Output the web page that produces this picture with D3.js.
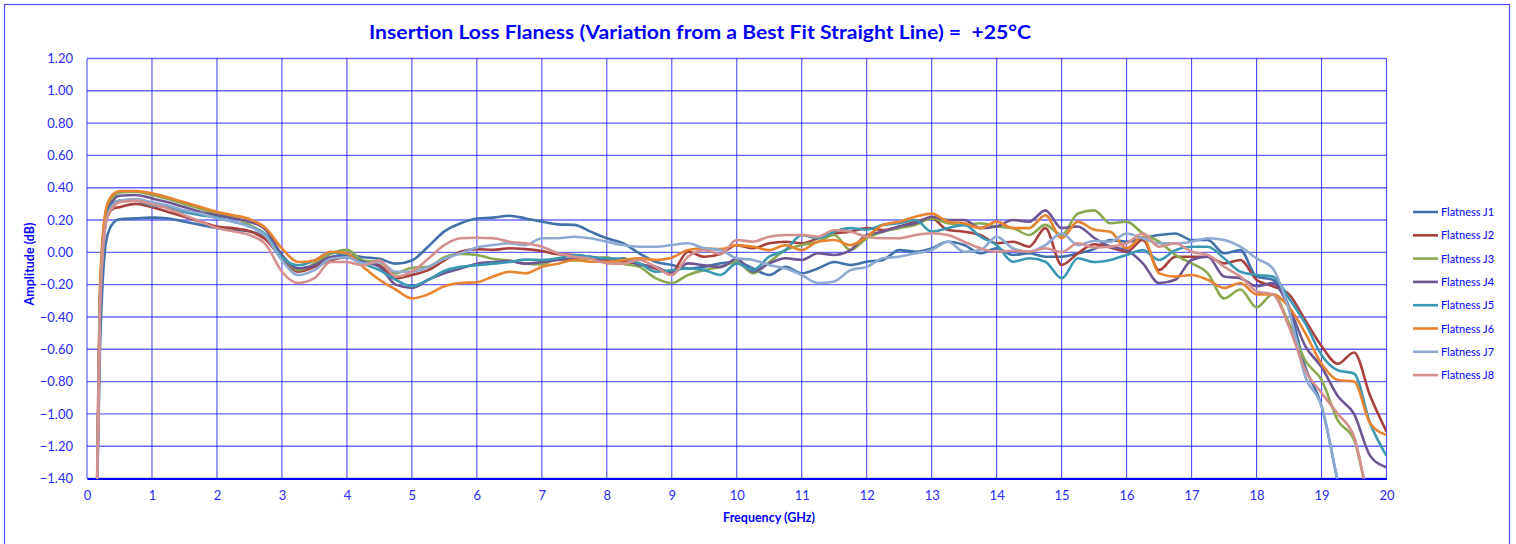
<!DOCTYPE html>
<html>
<head>
<meta charset="utf-8">
<script src="https://cdn.jsdelivr.net/npm/d3@7"></script>
<style>
  body { margin: 0; background: #fff; }
  svg { display: block; font-family: Lato, "Open Sans", sans-serif; }
</style>
</head>
<body>
<div id="chart"></div>
<script>
// frequencies (GHz) shared by all traces
var freqs = [0.15, 0.2, 0.3, 0.4, 0.5, 0.75,
  1, 1.25, 1.5, 1.75, 2, 2.25, 2.5, 2.75, 3, 3.25, 3.5, 3.75,
  4, 4.25, 4.5, 4.75, 5, 5.25, 5.5, 5.75, 6, 6.25, 6.5, 6.75,
  7, 7.25, 7.5, 7.75, 8, 8.25, 8.5, 8.75, 9, 9.25, 9.5, 9.75,
  10, 10.25, 10.5, 10.75, 11, 11.25, 11.5, 11.75, 12, 12.25, 12.5, 12.75,
  13, 13.25, 13.5, 13.75, 14, 14.25, 14.5, 14.75, 15, 15.25, 15.5, 15.75,
  16, 16.25, 16.5, 16.75, 17, 17.25, 17.5, 17.75, 18, 18.25, 18.5, 18.75,
  19, 19.25, 19.5, 19.75, 20];

var j1 = [-1.6, -0.6, 0.08, 0.18, 0.205, 0.21,
  0.215, 0.21, 0.19, 0.17, 0.15, 0.14, 0.13, 0.09, -0.03, -0.10, -0.08, -0.03,
  -0.015, -0.03, -0.04, -0.07, -0.05, 0.035, 0.13, 0.18, 0.21, 0.215, 0.227, 0.21,
  0.19, 0.173, 0.17, 0.128, 0.087, 0.056, -0.006, -0.058, -0.078, -0.10, -0.09, -0.068,
  -0.058, -0.10, -0.14, -0.09, -0.13, -0.10, -0.06, -0.078, -0.058, -0.047, 0.014, 0.004,
  0.025, 0.066, 0.045, -0.006, 0.025, -0.016, -0.006, -0.027, -0.027, -0.006, 0.02, 0.076,
  0.066, 0.087, 0.107, 0.117, 0.076, 0.076, -0.006, 0.014, -0.15, -0.17, -0.34, -0.71,
  -0.95, -1.42, -1.9, -2.2, -2.5];

var j2 = [-1.6, -0.3, 0.2, 0.27, 0.28, 0.30,
  0.28, 0.25, 0.22, 0.19, 0.16, 0.15, 0.13, 0.08, -0.04, -0.12, -0.09, -0.05,
  -0.03, -0.06, -0.08, -0.16, -0.14, -0.11, -0.05, 0.004, 0.02, 0.015, 0.025, 0.02,
  0.008, -0.012, -0.016, -0.03, -0.047, -0.06, -0.07, -0.10, -0.12, 0.004, -0.027, -0.01,
  0.045, 0.025, 0.056, 0.066, 0.056, 0.087, 0.117, 0.128, 0.15, 0.138, 0.16, 0.19,
  0.21, 0.138, 0.128, 0.107, 0.056, 0.066, 0.035, 0.15, -0.078, -0.006, 0.05, 0.03,
  0.004, 0.076, -0.11, -0.027, -0.027, -0.027, -0.068, -0.047, -0.17, -0.21, -0.26, -0.42,
  -0.58, -0.69, -0.62, -0.89, -1.11];

var j3 = [-1.6, -0.25, 0.27, 0.34, 0.37, 0.375,
  0.355, 0.33, 0.30, 0.27, 0.24, 0.22, 0.17, 0.11, -0.02, -0.11, -0.07, -0.01,
  0.015, -0.05, -0.06, -0.13, -0.095, -0.09, -0.03, -0.01, -0.016, -0.04, -0.05, -0.07,
  -0.075, -0.04, -0.05, -0.04, -0.03, -0.07, -0.09, -0.16, -0.19, -0.14, -0.11, -0.09,
  -0.06, -0.13, -0.06, 0.014, 0.045, 0.066, 0.107, 0.014, 0.087, 0.128, 0.15, 0.17,
  0.21, 0.18, 0.17, 0.18, 0.16, 0.15, 0.107, 0.17, 0.107, 0.24, 0.26, 0.18,
  0.19, 0.117, 0.066, -0.016, -0.068, -0.13, -0.285, -0.23, -0.34, -0.26, -0.44, -0.67,
  -0.79, -1.04, -1.16, -1.6, -2.0];

var j4 = [-1.6, -0.28, 0.24, 0.32, 0.35, 0.355,
  0.334, 0.31, 0.28, 0.25, 0.23, 0.21, 0.19, 0.14, -0.016, -0.10, -0.08, -0.03,
  -0.03, -0.06, -0.09, -0.20, -0.22, -0.17, -0.13, -0.10, -0.07, -0.06, -0.054, -0.07,
  -0.06, -0.047, -0.037, -0.027, -0.058, -0.037, -0.078, -0.09, -0.13, -0.068, -0.08, -0.09,
  -0.04, -0.12, -0.068, -0.037, -0.047, -0.006, -0.016, 0.014, 0.107, 0.128, 0.16, 0.18,
  0.22, 0.2, 0.2, 0.15, 0.16, 0.2, 0.19, 0.26, 0.15, 0.16, 0.09, 0.035,
  0.014, -0.068, -0.19, -0.17, -0.047, -0.027, -0.15, -0.16, -0.21, -0.19, -0.34, -0.58,
  -0.71, -0.89, -1.0, -1.26, -1.33];

var j5 = [-1.6, -0.3, 0.22, 0.30, 0.32, 0.32,
  0.29, 0.28, 0.25, 0.23, 0.215, 0.19, 0.16, 0.11, -0.03, -0.08, -0.05, 0.0,
  -0.01, -0.07, -0.11, -0.17, -0.21, -0.17, -0.115, -0.09, -0.08, -0.07, -0.06, -0.045,
  -0.047, -0.037, -0.016, -0.027, -0.037, -0.04, -0.068, -0.12, -0.11, -0.10, -0.11, -0.14,
  -0.068, -0.11, -0.027, 0.014, 0.107, 0.087, 0.128, 0.15, 0.14, 0.17, 0.18, 0.2,
  0.128, 0.15, 0.17, 0.097, 0.045, -0.058, -0.037, -0.058, -0.16, -0.037, -0.06, -0.047,
  -0.016, 0.014, -0.047, 0.014, 0.035, 0.035, -0.037, -0.12, -0.14, -0.15, -0.285, -0.44,
  -0.635, -0.73, -0.75, -1.06, -1.26];

var j6 = [-1.6, -0.2, 0.28, 0.36, 0.38, 0.38,
  0.365, 0.34, 0.31, 0.28, 0.25, 0.23, 0.206, 0.15, 0.025, -0.06, -0.05, 0.004,
  -0.006, -0.09, -0.17, -0.23, -0.285, -0.26, -0.21, -0.19, -0.185, -0.15, -0.12, -0.13,
  -0.09, -0.07, -0.047, -0.058, -0.058, -0.047, -0.037, -0.047, -0.033, 0.014, 0.025, 0.02,
  0.045, 0.035, 0.014, 0.045, 0.014, 0.066, 0.076, 0.045, 0.097, 0.17, 0.19, 0.22,
  0.24, 0.19, 0.18, 0.15, 0.19, 0.15, 0.15, 0.23, 0.087, 0.19, 0.14, 0.128,
  0.025, 0.097, -0.13, -0.15, -0.14, -0.17, -0.22, -0.19, -0.26, -0.26, -0.34, -0.5,
  -0.69, -0.79, -0.80, -1.06, -1.13];

var j7 = [-1.6, -0.32, 0.2, 0.29, 0.32, 0.33,
  0.31, 0.29, 0.26, 0.24, 0.21, 0.19, 0.16, 0.10, -0.05, -0.14, -0.11, -0.04,
  -0.03, -0.07, -0.06, -0.12, -0.12, -0.09, -0.04, -0.006, 0.03, 0.045, 0.056, 0.045,
  0.087, 0.087, 0.097, 0.087, 0.066, 0.045, 0.035, 0.035, 0.045, 0.056, 0.025, 0.014,
  -0.037, -0.047, -0.078, -0.1, -0.14, -0.19, -0.18, -0.11, -0.09, -0.037, -0.027, -0.006,
  0.014, 0.066, 0.004, 0.014, 0.097, 0.025, 0.004, 0.045, 0.118, 0.045, 0.07, 0.066,
  0.117, 0.087, 0.056, 0.056, 0.066, 0.087, 0.076, 0.035, -0.037, -0.1, -0.36, -0.77,
  -0.95, -1.42, -1.9, -2.2, -2.5];

var j8 = [-1.6, -0.35, 0.2, 0.28, 0.31, 0.32,
  0.297, 0.27, 0.23, 0.19, 0.15, 0.13, 0.107, 0.05, -0.12, -0.19, -0.16, -0.06,
  -0.06, -0.08, -0.05, -0.15, -0.12, -0.04, 0.045, 0.087, 0.09, 0.087, 0.066, 0.056,
  0.035, -0.006, -0.027, -0.04, -0.068, -0.07, -0.047, -0.09, -0.14, -0.027, 0.014, -0.01,
  0.076, 0.066, 0.097, 0.107, 0.107, 0.097, 0.138, 0.128, 0.097, 0.087, 0.087, 0.107,
  0.118, 0.107, 0.066, 0.025, 0.004, 0.01, 0.004, 0.025, 0.0, 0.056, 0.03, 0.035,
  0.056, 0.117, 0.035, 0.056, 0.004, -0.016, -0.089, -0.15, -0.24, -0.26, -0.46, -0.73,
  -0.87, -1.0, -1.14, -1.6, -2.0];

var seriesNames = ["Flatness J1", "Flatness J2", "Flatness J3", "Flatness J4",
  "Flatness J5", "Flatness J6", "Flatness J7", "Flatness J8"];
var seriesValues = [j1, j2, j3, j4, j5, j6, j7, j8];
var seriesColors = ["#4271a9", "#a8403d", "#89a84f", "#6f5693", "#3c98b2", "#e8832f", "#8eaad2", "#d4908e"];

var yTicks = [1.2, 1.0, 0.8, 0.6, 0.4, 0.2, 0.0, -0.2, -0.4, -0.6, -0.8, -1.0, -1.2, -1.4];
var xTicks = d3.range(0, 21, 1);

var titleText = "Insertion Loss Flaness (Variation from a Best Fit Straight Line) =  +25\u00B0C";

var width = 1516, height = 544;
var blue = "#0000ff";

var svg = d3.select("#chart").append("svg")
  .attr("width", width)
  .attr("height", height);

// outer chart frame
svg.append("rect")
  .attr("x", 4.5).attr("y", 4.5)
  .attr("width", 1505).attr("height", 560)
  .attr("fill", "none")
  .attr("stroke", "#4d4dff")
  .attr("stroke-width", 1.2);

var x = d3.scaleLinear().domain([0, 20]).range([87, 1386.5]);
var y = d3.scaleLinear().domain([-1.4, 1.2]).range([478.5, 58.5]);

// grid
var grid = svg.append("g");
grid.selectAll("line.h").data(yTicks).enter().append("line")
  .attr("class", "h")
  .attr("x1", x(0)).attr("x2", x(20))
  .attr("y1", function(d) { return y(d); })
  .attr("y2", function(d) { return y(d); })
  .attr("stroke", blue)
  .attr("stroke-opacity", 0.6)
  .attr("stroke-width", 1.4);
grid.selectAll("line.v").data(xTicks).enter().append("line")
  .attr("class", "v")
  .attr("x1", function(d) { return x(d); })
  .attr("x2", function(d) { return x(d); })
  .attr("y1", y(1.2)).attr("y2", y(-1.4))
  .attr("stroke", blue)
  .attr("stroke-opacity", 0.7)
  .attr("stroke-width", 1.1);

// y axis labels
var yAxis = d3.axisLeft(y).tickValues(yTicks).tickSize(0).tickPadding(14)
  .tickFormat(d3.format(".2f"));
var gy = svg.append("g").attr("transform", "translate(" + x(0) + ",0)").call(yAxis);
gy.select(".domain").remove();
gy.selectAll("text").attr("fill", "#2a2aff").style("font-size", "13px").style("font-family", "Lato, sans-serif");

// x axis labels
var xAxis = d3.axisBottom(x).tickValues(xTicks).tickSize(0).tickPadding(12)
  .tickFormat(d3.format("d"));
var gx = svg.append("g").attr("transform", "translate(0," + y(-1.4) + ")").call(xAxis);
gx.select(".domain").attr("stroke", blue).attr("stroke-width", 2);
gx.selectAll("text").attr("fill", "#2a2aff").style("font-size", "13px").style("font-family", "Lato, sans-serif");

// traces
svg.append("clipPath").attr("id", "plotClip")
  .append("rect")
  .attr("x", x(0)).attr("y", y(1.2))
  .attr("width", x(20) - x(0)).attr("height", y(-1.4) - y(1.2));

var line = d3.line()
  .x(function(d) { return x(d[0]); })
  .y(function(d) { return y(d[1]); })
  .curve(d3.curveMonotoneX);

var traces = svg.append("g").attr("clip-path", "url(#plotClip)");
seriesValues.forEach(function(vals, i) {
  var pts = freqs.map(function(f, k) { return [f, vals[k]]; });
  traces.append("path")
    .datum(pts)
    .attr("d", line)
    .attr("fill", "none")
    .attr("stroke", seriesColors[i])
    .attr("stroke-width", 2.6)
    .attr("stroke-linejoin", "round");
});

// title
svg.append("text")
  .attr("x", 700).attr("y", 39)
  .attr("text-anchor", "middle")
  .attr("textLength", 662)
  .attr("lengthAdjust", "spacingAndGlyphs")
  .style("white-space", "pre")
  .style("font-size", "19px")
  .style("font-weight", "bold")
  .attr("fill", blue)
  .text(titleText);

// axis titles
svg.append("text")
  .attr("x", 769).attr("y", 522)
  .attr("text-anchor", "middle")
  .style("font-size", "12.5px")
  .style("font-weight", "bold")
  .attr("fill", blue)
  .text("Frequency (GHz)");

svg.append("text")
  .attr("transform", "translate(34,264) rotate(-90)")
  .attr("text-anchor", "middle")
  .style("font-size", "12.5px")
  .style("font-weight", "bold")
  .attr("fill", blue)
  .text("Amplitude (dB)");

// legend
var legend = svg.append("g").attr("transform", "translate(1413,212)");
seriesNames.forEach(function(name, i) {
  var ly = i * 23.3;
  legend.append("line")
    .attr("x1", 0).attr("x2", 25)
    .attr("y1", ly).attr("y2", ly)
    .attr("stroke", seriesColors[i])
    .attr("stroke-width", 2.6);
  legend.append("text")
    .attr("x", 28).attr("y", ly + 4)
    .style("font-size", "11px")
    .attr("fill", blue)
    .text(name);
});
</script>
</body>
</html>
